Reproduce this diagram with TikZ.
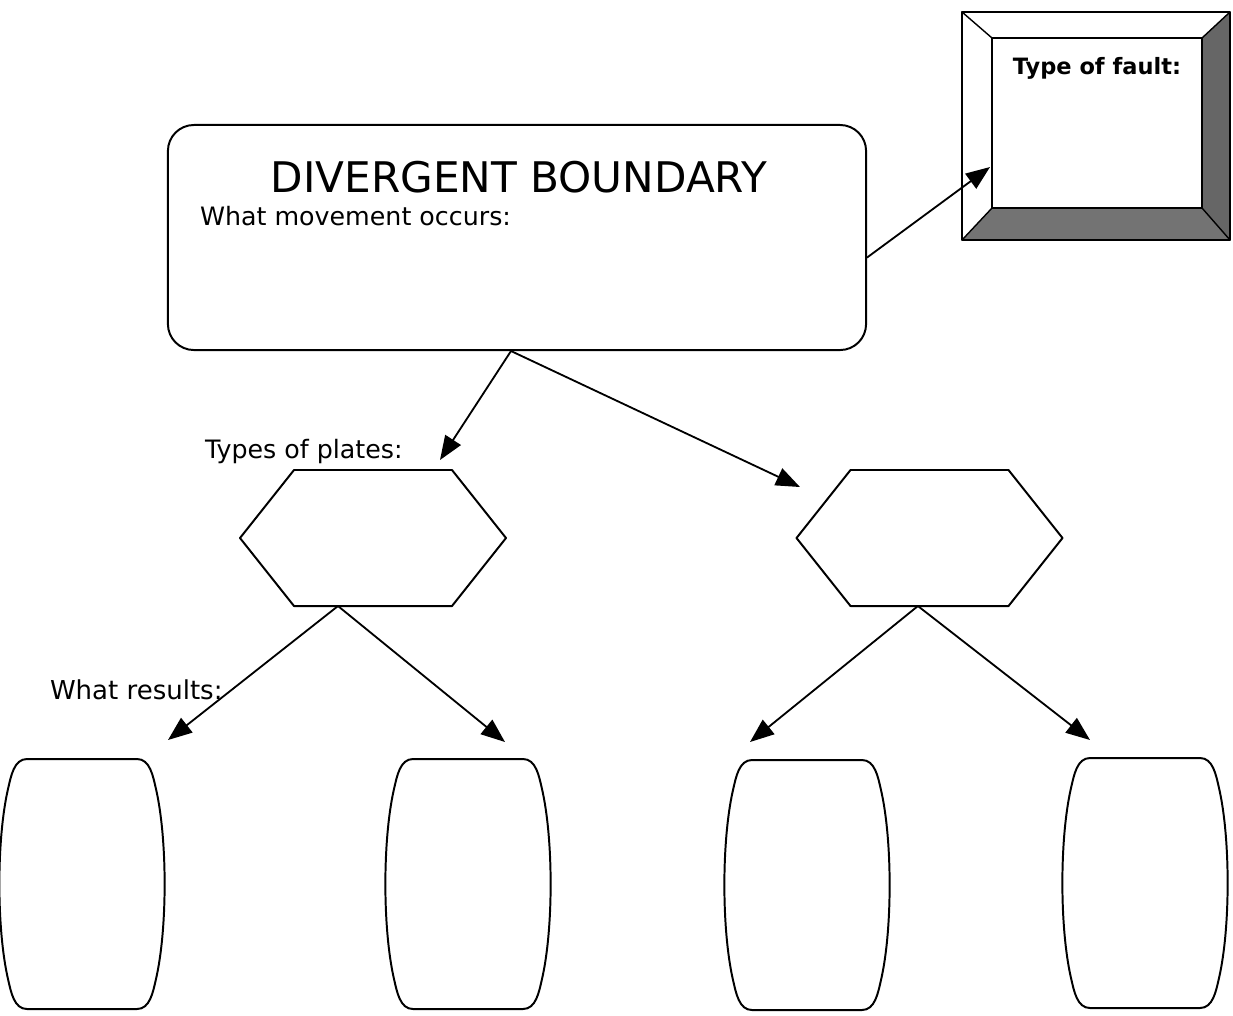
\documentclass[tikz,border=0pt]{standalone}
\usepackage{fontspec}
\setmainfont{DejaVu Sans}
\usetikzlibrary{arrows.meta}
\tikzset{box/.style={draw=black,line width=1.4pt},
 link/.style={draw=black,line width=1.3pt,-{Triangle[length=6mm,width=4.6mm]}},
 blank/.style={inner sep=0pt,outer sep=0pt},
 every picture/.style={line join=round,line cap=round}}

\begin{document}
\begin{tikzpicture}[x=0.025cm,y=-0.025cm]
\useasboundingbox[fill=white] (0,0) rectangle (1233,1015);
% main box
\node[box,rounded corners=0.65cm,minimum width=17.45cm,minimum height=5.625cm] (move) at (517,237.5) {};
\node[blank,font=\fontsize{30}{32}\selectfont] (title) at (519,177) {DIVERGENT BOUNDARY};
\node[blank,anchor=west,font=\fontsize{18}{20}\selectfont] (occurs) at (200,216) {What movement occurs:};
% bevelled frame
\path[fill=black!60] (1202,38) -- (1230,12) -- (1230,240) -- (1202,208) -- cycle;
\path[fill=black!55] (992,208) -- (1202,208) -- (1230,240) -- (962,240) -- cycle;
\draw[box] (962,12) rectangle (1230,240);
\draw[line width=1pt] (962,12) -- (992,38);
\draw[line width=1pt] (1230,12) -- (1202,38);
\draw[line width=1pt] (962,240) -- (992,208);
\draw[line width=1pt] (1230,240) -- (1202,208);
\node[blank,draw=black,line width=1.2pt,fill=white,minimum width=5.25cm,minimum height=4.25cm] (fault) at (1097,123) {};
\node[blank,font=\bfseries\fontsize{16}{18}\selectfont] (faultlabel) at (1097,68) {Type of fault:};
% plates
\foreach \n/\x in {plateL/373,plateR/929.5}{
  \draw[box,shift={(\x,538)}] (-133,0) -- (-79,-68) -- (79,-68) -- (133,0) -- (79,68) -- (-79,68) -- cycle;
  \node[blank,minimum width=6.65cm,minimum height=3.4cm] (\n) at (\x,538) {};
}
\node[blank,anchor=west,font=\fontsize{18}{20}\selectfont] (plates) at (205,452) {Types of plates:};
\node[blank,anchor=west,font=\fontsize{18.5}{20}\selectfont] (results) at (50,690) {What results:};
% results
\foreach \i/\x/\y in {1/82/884,2/468/884,3/807/885,4/1145/883}{
  \node[blank,minimum width=4.1cm,minimum height=6.25cm] (res\i) at (\x,\y) {};
  \draw[box,shift={(\x,\y)}] (-55,-125) -- (55,-125) .. controls (68,-125) and (71,-108) .. (74,-95)
    .. controls (85.5,-45) and (85.5,45) .. (74,95) .. controls (71,108) and (68,125) .. (55,125)
    -- (-55,125) .. controls (-68,125) and (-71,108) .. (-74,95) .. controls (-85.5,45) and (-85.5,-45) .. (-74,-95)
    .. controls (-71,-108) and (-68,-125) .. (-55,-125) -- cycle;
}
% arrow tips
\coordinate (tipF) at (990,167);
\coordinate (tipL) at (440,460);
\coordinate (tipR) at (800,487);
\coordinate (tip1) at (168,740);
\coordinate (tip2) at (505,742);
\coordinate (tip3) at (750,742);
\coordinate (tip4) at (1090,740);
\draw[link] ([yshift=-0.5cm]move.east) -- (tipF);
\draw[link] ([xshift=-0.15cm]move.south) -- (tipL);
\draw[link] ([xshift=-0.15cm]move.south) -- (tipR);
\draw[link] ([xshift=-0.875cm]plateL.south) -- (tip1);
\draw[link] ([xshift=-0.875cm]plateL.south) -- (tip2);
\draw[link] ([xshift=-0.29cm]plateR.south) -- (tip3);
\draw[link] ([xshift=-0.29cm]plateR.south) -- (tip4);
\end{tikzpicture}
\end{document}
